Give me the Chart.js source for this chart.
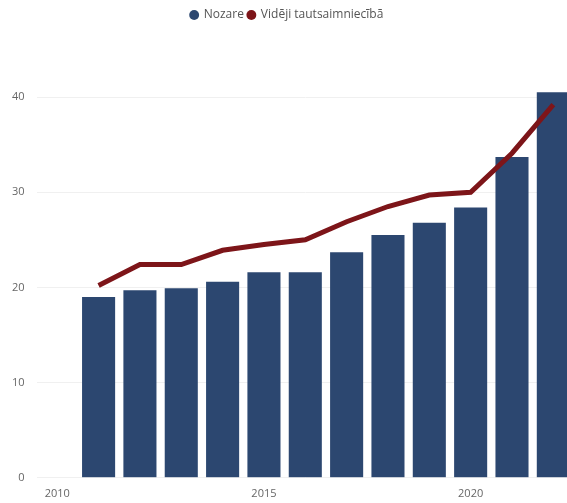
<!DOCTYPE html>
<html>
<head>
<meta charset="utf-8">
<script src="https://cdn.jsdelivr.net/npm/chart.js@4"></script>
<style>
html,body{margin:0;padding:0;background:#fff;overflow:hidden;}
#wrap{width:576px;height:503px;position:relative;}
</style>
</head>
<body>
<div id="wrap"><canvas id="c"></canvas></div>
<script>
const years = ['2010','2011','2012','2013','2014','2015','2016','2017','2018','2019','2020','2021','2022'];
const nozare = [null, 19.0, 19.7, 19.9, 20.6, 21.6, 21.6, 23.7, 25.5, 26.8, 28.4, 33.7, 40.5];
const videji = [null, 20.2, 22.4, 22.4, 23.9, 24.5, 25.0, 26.9, 28.5, 29.7, 30.0, 34.1, 39.2];
const yTicks = [0, 10, 20, 30, 40];
const xTickLabels = ['2010','2015','2020'];
const seriesNames = ['Nozare', 'Vidēji tautsaimniecībā'];
const colors = ['#2c4770', '#7d1519'];

const font = "'Open Sans', 'Noto Sans', sans-serif";
new Chart(document.getElementById('c'), {
  data: {
    labels: years,
    datasets: [
      {type:'bar', label: seriesNames[0], data: nozare, backgroundColor:colors[0], borderWidth:0,
       categoryPercentage:1, barPercentage:0.8, order:1},
      {type:'line', label: seriesNames[1], data: videji, borderColor:colors[1], backgroundColor:colors[1],
       borderWidth:5, pointRadius:0, tension:0, order:0}
    ]
  },
  options: {
    responsive:true, maintainAspectRatio:false, animation:false,
    layout:{padding:{top:5, left:0, right:2, bottom:2}},
    plugins:{
      legend:{
        position:'top',
        labels:{usePointStyle:true, boxWidth:7, boxHeight:7, padding:4,
          font:{family:font, size:12}, color:'#555',
          generateLabels:(chart)=> chart.data.datasets.map((d,i)=>({
            text:d.label, fillStyle:colors[i], strokeStyle:colors[i], lineWidth:0,
            pointStyle:'circle', datasetIndex:i, hidden:false, fontColor:'#555'}))
        },
      },
      tooltip:{enabled:false}
    },
    scales:{
      x:{
        grid:{display:false}, border:{display:false},
        ticks:{autoSkip:false, maxRotation:0, color:'#666', font:{family:font, size:11}, padding:1,
          callback:function(v){const l=this.getLabelForValue(v); return xTickLabels.includes(l)?l:'';}}
      },
      y:{
        min:0, max:42,
        grid:{color:'#f0f0f0', drawTicks:false}, border:{display:false},
        afterBuildTicks:(ax)=>{ax.ticks = yTicks.map(v=>({value:v}));},
        ticks:{color:'#666', font:{family:font, size:11}, padding:12}
      }
    }
  },
  plugins:[{id:'legendSpace', beforeInit(chart){const f=chart.legend.fit; chart.legend.fit=function(){f.call(this); this.height+=47;};}}]
});
</script>
</body>
</html>
